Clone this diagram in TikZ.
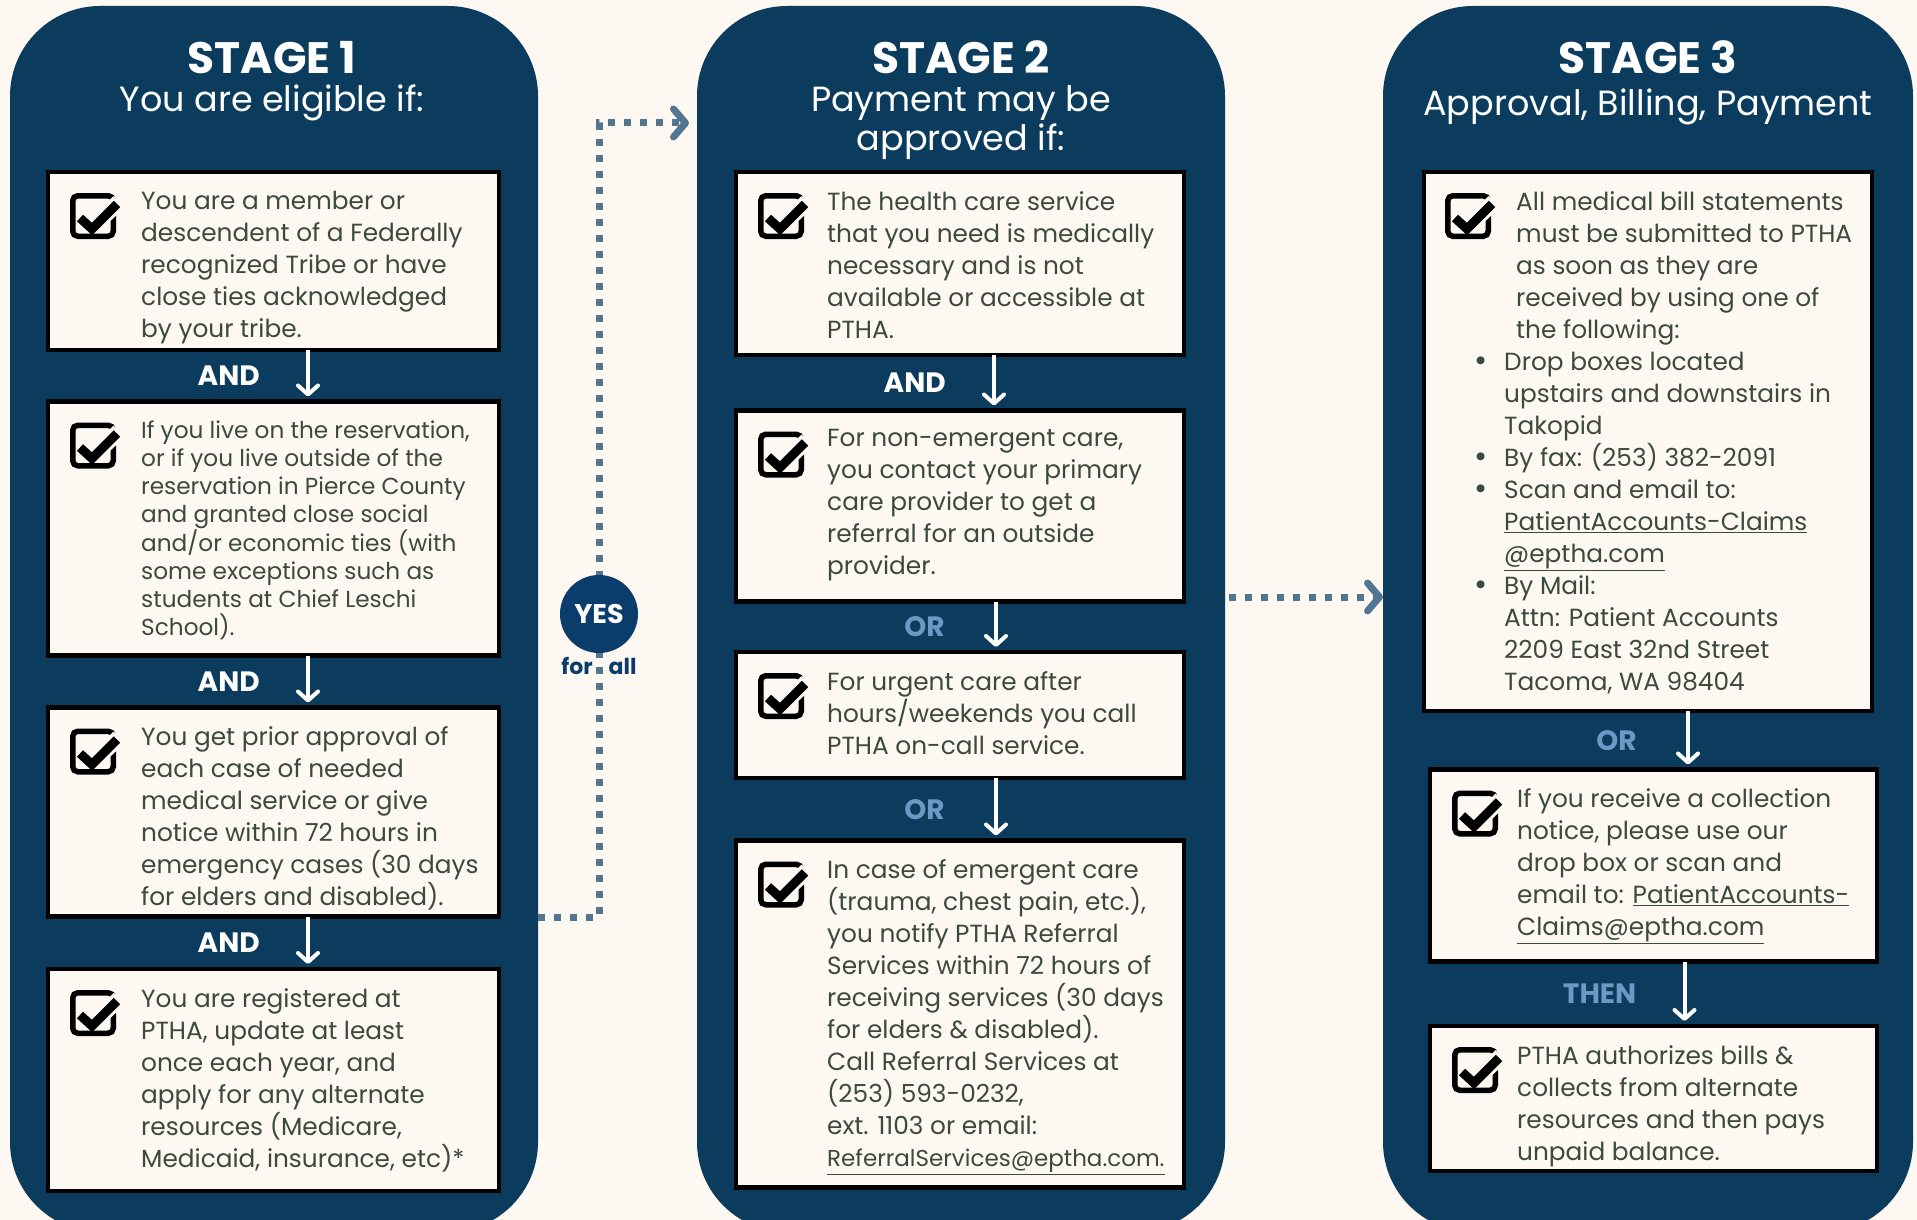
\documentclass[tikz,border=0pt]{standalone}
\usepackage{fontspec}
\setmainfont{Poppins}
\usetikzlibrary{positioning,arrows.meta}

\definecolor{cream}{HTML}{FDF8F1}
\definecolor{navy}{HTML}{0B3C5D}
\definecolor{ink}{HTML}{3C4A3C}
\definecolor{dotblue}{HTML}{52768F}
\definecolor{orblue}{HTML}{6D97C4}
\definecolor{yesblue}{HTML}{0A3D6B}

\newcommand{\blt}{\llap{\raisebox{-1pt}{\fontsize{32}{32}\selectfont\textbullet}\hspace{17pt}}}

\tikzset{
  panel/.style={fill=navy, rounded corners=90pt, inner sep=0pt, outer sep=0pt,
    anchor=north west, minimum width=528pt, minimum height=1226pt},
  cbox/.style={draw=black, line width=4.5pt, fill=cream, inner sep=0pt, outer sep=0pt,
    minimum width=451pt},
  txt/.style={text=ink, align=left, anchor=north west, inner sep=0pt,
    font=\fontsize{24.8}{32}\selectfont},
  smalltxt/.style={txt, font=\fontsize{23.2}{28}\selectfont},
  head/.style={text=white, anchor=base, font=\fontsize{44}{48}\bfseries\selectfont},
  subhead/.style={text=white, anchor=base, font=\fontsize{35}{38}\selectfont},
  flow/.style={draw=white, line width=4pt, shorten >=5pt,
    -{Straight Barb[length=9pt, width=20pt, round]}},
  andlab/.style={text=white, font=\fontsize{28}{30}\bfseries\selectfont},
  orlab/.style={andlab, text=orblue},
  dotline/.style={draw=dotblue, line width=7pt, dash pattern=on 7pt off 9pt,
    -{Straight Barb[length=12pt, width=28pt, round]}},
  tick/.pic={
    \draw[line width=5.5pt, rounded corners=5pt] (2.75,2.75) rectangle (43.25,43.25);
    \draw[cream, line width=16pt] (33,24) -- (49,9);
    \draw[line width=9pt] (10,25) -- (22,36) -- (47,11);
  }
}

\begin{document}
\begin{tikzpicture}[x=1pt, y=-1pt]
  \path[use as bounding box, fill=cream] (0,0) rectangle (1917,1220);

  % the three stages
  \node[panel] (stage1) at (10,6) {};
  \node[panel] (stage2) at (697,6) {};
  \node[panel, minimum width=530pt] (stage3) at (1383,6) {};

  \node[head] (h1) at (272,74) {STAGE 1};
  \node[subhead] (sub1) at (272,112) {You are eligible if:};
  \node[head] (h2) at (961,74) {STAGE 2};
  \node[subhead] (sub2) at (961,112) {Payment may be};
  \node[subhead] (sub2b) at (961,150) {approved if:};
  \node[head] (h3) at (1648,74) {STAGE 3};
  \node[subhead] (sub3) at (1648,116) {Approval, Billing, Payment};

  % stage 1 boxes
  \node[cbox, minimum height=178pt, anchor=north west] (b11) at (48,172) {};
  \node[cbox, minimum height=254pt, below=51.5pt of b11] (b12) {};
  \node[cbox, minimum height=209pt, below=52pt of b12] (b13) {};
  \node[cbox, minimum height=222pt, below=52.5pt of b13] (b14) {};

  \pic at ([xshift=22pt,yshift=-21pt]b11.north west) {tick};
  \pic at ([xshift=22pt,yshift=-21pt]b12.north west) {tick};
  \pic at ([xshift=22pt,yshift=-21pt]b13.north west) {tick};
  \pic at ([xshift=22pt,yshift=-21pt]b14.north west) {tick};

  \node[txt] (t11) at ([xshift=93pt,yshift=-19pt]b11.north west)
    {You are a member or\\descendent of a Federally\\recognized Tribe or have\\close ties acknowledged\\by your tribe.};
  \node[smalltxt] (t12) at ([xshift=93pt,yshift=-19pt]b12.north west)
    {If you live on the reservation,\\or if you live outside of the\\reservation in Pierce County\\and granted close social\\and/or economic ties (with\\some exceptions such as\\students at Chief Leschi\\School).};
  \node[txt] (t13) at ([xshift=93pt,yshift=-19pt]b13.north west)
    {You get prior approval of\\each case of needed\\medical service or give\\notice within 72 hours in\\emergency cases (30 days\\for elders and disabled).};
  \node[txt] (t14) at ([xshift=93pt,yshift=-19pt]b14.north west)
    {You are registered at\\PTHA, update at least\\once each year, and\\apply for any alternate\\resources (Medicare,\\Medicaid, insurance, etc)*};

  \draw[flow] ([xshift=34.5pt]b11.south) -- ([xshift=34.5pt]b12.north)
    node[midway, left=43pt, andlab] {AND};
  \draw[flow] ([xshift=34.5pt]b12.south) -- ([xshift=34.5pt]b13.north)
    node[midway, left=43pt, andlab] {AND};
  \draw[flow] ([xshift=34.5pt]b13.south) -- ([xshift=34.5pt]b14.north)
    node[midway, left=43pt, andlab] {AND};

  % stage 2 boxes
  \node[cbox, minimum width=448pt, minimum height=183pt, anchor=north west] (b21) at (736,172) {};
  \node[cbox, minimum width=448pt, minimum height=191pt, below=55.5pt of b21] (b22) {};
  \node[cbox, minimum width=448pt, minimum height=126pt, below=50.5pt of b22] (b23) {};
  \node[cbox, minimum width=448pt, minimum height=347pt, below=62.5pt of b23] (b24) {};

  \pic at ([xshift=22pt,yshift=-21pt]b21.north west) {tick};
  \pic at ([xshift=22pt,yshift=-21pt]b22.north west) {tick};
  \pic at ([xshift=22pt,yshift=-21pt]b23.north west) {tick};
  \pic at ([xshift=22pt,yshift=-21pt]b24.north west) {tick};

  \node[txt] (t21) at ([xshift=91pt,yshift=-19pt]b21.north west)
    {The health care service\\that you need is medically\\necessary and is not\\available or accessible at\\PTHA.};
  \node[txt] (t22) at ([xshift=91pt,yshift=-19pt]b22.north west)
    {For non-emergent care,\\you contact your primary\\care provider to get a\\referral for an outside\\provider.};
  \node[txt] (t23) at ([xshift=91pt,yshift=-19pt]b23.north west)
    {For urgent care after\\hours/weekends you call\\PTHA on-call service.};
  \node[txt] (t24) at ([xshift=91pt,yshift=-19pt]b24.north west)
    {In case of emergent care\\(trauma, chest pain, etc.),\\you notify PTHA Referral\\Services within 72 hours of\\receiving services (30 days\\for elders \& disabled).\\Call Referral Services at\\(253) 593-0232,\\ext. 1103 or email:\\{\fontsize{23}{32}\selectfont\underline{ReferralServices@eptha.com.}}};

  \draw[flow] ([xshift=34pt]b21.south) -- ([xshift=34pt]b22.north)
    node[midway, left=43pt, andlab] {AND};
  \draw[flow] ([xshift=36pt]b22.south) -- ([xshift=36pt]b23.north)
    node[midway, left=46pt, orlab] {OR};
  \draw[flow] ([xshift=36pt]b23.south) -- ([xshift=36pt]b24.north)
    node[midway, left=46pt, orlab] {OR};

  % stage 3 boxes
  \node[cbox, minimum width=448pt, minimum height=539pt, anchor=north west] (b31) at (1424,172) {};
  \node[cbox, minimum width=447pt, minimum height=192pt, below=58.5pt of b31, xshift=5.5pt] (b32) {};
  \node[cbox, minimum width=447pt, minimum height=145pt, below=64.5pt of b32] (b33) {};

  \pic at ([xshift=21pt,yshift=-21pt]b31.north west) {tick};
  \pic at ([xshift=22pt,yshift=-21pt]b32.north west) {tick};
  \pic at ([xshift=22pt,yshift=-21pt]b33.north west) {tick};

  \node[txt] (t31) at ([xshift=80pt,yshift=-19pt]b31.north west)
    {\hspace*{12pt}All medical bill statements\\\hspace*{12pt}must be submitted to PTHA\\\hspace*{12pt}as soon as they are\\\hspace*{12pt}received by using one of\\\hspace*{12pt}the following:\\
     \blt Drop boxes located\\upstairs and downstairs in\\Takopid\\
     \blt By fax: (253) 382-2091\\
     \blt Scan and email to:\\\underline{PatientAccounts-Claims}\\\underline{@eptha.com}\\
     \blt By Mail:\\Attn: Patient Accounts\\2209 East 32nd Street\\Tacoma, WA 98404};
  \node[txt] (t32) at ([xshift=87pt,yshift=-19pt]b32.north west)
    {If you receive a collection\\notice, please use our\\drop box or scan and\\email to: \underline{PatientAccounts-}\\\underline{Claims@eptha.com}};
  \node[txt] (t33) at ([xshift=87pt,yshift=-19pt]b33.north west)
    {PTHA authorizes bills \&\\collects from alternate\\resources and then pays\\unpaid balance.};

  \draw[flow] ([xshift=40pt]b31.south) -- ([xshift=34.5pt]b32.north)
    node[midway, left=46pt, orlab] {OR};
  \draw[flow] ([xshift=31pt]b32.south) -- ([xshift=31pt]b33.north)
    node[midway, left=43pt, orlab] {THEN};

  % dotted links between the stages
  \coordinate (yespt) at (599,614);
  \draw[dotline] (stage1.east |- 0,917) -| (yespt) |- (689,123);
  \node[circle, fill=yesblue, minimum size=78pt, inner sep=0pt, text=white,
    font=\fontsize{27}{27}\bfseries\selectfont] (yes) at (yespt) {YES};
  \node[text=yesblue, font=\fontsize{22}{22}\bfseries\selectfont] (forall) at (599,666)
    {for\hspace{16pt}all};
  \draw[dotline] ([xshift=4pt]stage2.east |- 0,597) -- (stage3.west |- 0,597);
\end{tikzpicture}
\end{document}
